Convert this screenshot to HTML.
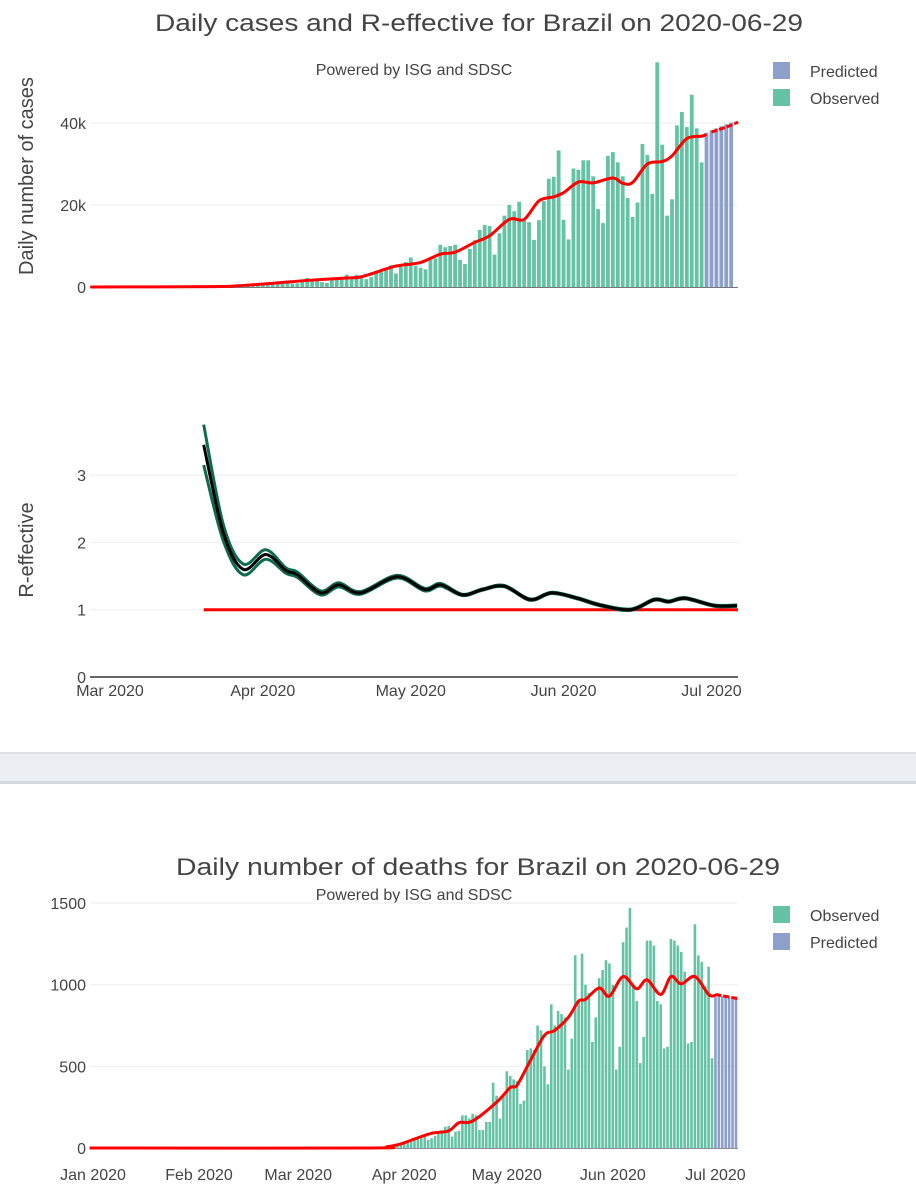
<!DOCTYPE html>
<html><head><meta charset="utf-8"><style>
html,body{margin:0;padding:0;background:#fff;}
svg{display:block;font-family:"Liberation Sans",sans-serif;}
</style></head><body>
<svg id="svg" width="916" height="1200" viewBox="0 0 916 1200">
<rect x="0" y="753" width="916" height="31" fill="#ebeef3"/>
<rect x="0" y="752" width="916" height="2" fill="#dde0e6"/>
<rect x="0" y="781" width="916" height="3" fill="#d2d6dd"/>
<g id="g1"></g>
<g id="g2"></g>
<g id="g3"></g>
</svg>
<script>
// ---- cases data (day index 0 = 2020-03-01) ----
const casesObserved = [0,0,0,0,0,0,1,2,5,5,10,10,20,25,30,40,60,80,100,150,200,250,300,350,
400,500,300,500,600,500,450,700,1100,1100,1200,1100,1200,850,900,1600,2200,
1900,1600,1200,1000,1800,1900,2100,3000,2000,3000,2500,1900,2400,3400,3700,4500,
5300,3300,5000,6100,7200,5200,4700,4300,6600,7000,10300,9700,10000,10300,6600,5600,9300,11400,13900,15100,14900,7900,13100,17400,20000,18500,20800,16500,15800,11500,16300,21000,26400,26900,33300,16400,11600,28900,28600,30900,30900,27000,19000,15600,32000,32900,30400,27000,21700,17100,20600,34900,32200,22700,54800,34700,17400,21400,39400,42700,39000,46900,38700,30400];
const casesPredicted = [37600,38200,38700,39200,39700,40100];
const casesTrendDays = [-4,21,26,33,40,48,51,57,59,63,67,70,74,77,81,84,87,90,92,95,98,102,104,106,109,112,114,117,120,121];
const casesTrendVals = [0,100,300,900,1600,2200,2500,4800,5300,6000,8000,8500,10900,12500,16500,16500,21000,22000,23000,25600,25400,26600,25300,25500,30000,30600,32000,36200,36800,37200];
const casesPredTrendDays = [122,125,127.4];
const casesPredTrendVals = [37800,39000,40200];
const casesYTicks = [0,20000,40000];
const casesYTickLabels = ["0","20k","40k"];
// ---- R-effective ----
const rDays = [19,23,27,31.6,35.7,38,42.7,46.4,50.8,58.2,63.8,67.1,71.5,75.6,80,85.2,89.6,94.8,99.3,105.6,110.4,113.3,116.7,122.6,127.2];
const rVals = [3.45,2.14,1.6,1.82,1.58,1.52,1.25,1.37,1.25,1.49,1.3,1.37,1.22,1.3,1.35,1.15,1.25,1.17,1.07,1.0,1.15,1.12,1.17,1.06,1.06];
const rBand = [0.3,0.12,0.08,0.07,0.04,0.04,0.03,0.03,0.02,0.02,0.02,0.02,0.01,0.01,0.01,0.01,0.01,0.01,0.01,0.01,0.01,0.01,0.01,0.01,0.01];
const rYTicks = [0,1,2,3];
const rXTickDays = [0,31,61,92,122];
const rXTickLabels = ["Mar 2020","Apr 2020","May 2020","Jun 2020","Jul 2020"];
// ---- deaths (day index 0 = 2020-01-01) ----
const deathsStartDay = 84;
const deathsObserved = [5,8,10,15,20,25,30,35,40,45,50,55,60,70,
50,60,75,90,110,130,135,70,100,105,200,200,180,210,200,110,110,160,160,400,
320,180,330,470,440,420,410,270,290,600,610,600,750,720,500,390,880,750,840,820,
800,480,670,1180,900,1190,1000,950,650,800,1040,1090,1150,1130,1000,480,620,1260,1350,1470,
1000,900,520,680,1270,1270,1240,900,880,610,620,1280,1270,1240,1200,1080,640,650,1370,1180,1140,990,1110,550];
const deathsPredicted = [940,935,930,925,920,915,910];
const deathsTrendDays = [-1,80,86,90,94,99,104,107,111,118,122,124,128,132,135,139,142,144,148,151,155,159,162,166,169,172,176,180,182];
const deathsTrendVals = [0,0,8,25,55,90,105,155,165,280,370,385,540,690,720,800,900,910,980,930,1050,975,1030,940,1050,1005,1050,940,935];
const deathsPredTrendDays = [182,188.5];
const deathsPredTrendVals = [940,915];
const deathsYTicks = [0,500,1000,1500];
const deathsXTickDays = [0,31,60,91,121,152,182];
const deathsXTickLabels = ["Jan 2020","Feb 2020","Mar 2020","Apr 2020","May 2020","Jun 2020","Jul 2020"];

const NS="http://www.w3.org/2000/svg";
function mk(parent,tag,attrs,text){const e=document.createElementNS(NS,tag);for(const k in attrs)e.setAttribute(k,attrs[k]);if(text!==undefined)e.textContent=text;parent.appendChild(e);return e;}
function smooth(pts){
  let d="M"+pts[0][0]+","+pts[0][1];
  for(let i=0;i<pts.length-1;i++){const p0=pts[i-1]||pts[i],p1=pts[i],p2=pts[i+1],p3=pts[i+2]||p2;
    const c1x=p1[0]+(p2[0]-p0[0])/6,c1y=p1[1]+(p2[1]-p0[1])/6,c2x=p2[0]-(p3[0]-p1[0])/6,c2y=p2[1]-(p3[1]-p1[1])/6;
    d+=" C"+c1x+","+c1y+" "+c2x+","+c2y+" "+p2[0]+","+p2[1];}
  return d;}
const OBS="#66c2a5",PRED="#8da0cb",TXT="#444";
const L=90,R=738;

// ===== Chart 1 : cases =====
const g1=document.getElementById('g1');
const cx=d=>110+d*4.93, cy=v=>287-v*0.0041;
let t=mk(g1,'text',{x:479,y:31,'text-anchor':'middle','font-size':24,fill:TXT,textLength:648,lengthAdjust:'spacingAndGlyphs'},"Daily cases and R-effective for Brazil on 2020-06-29");

t=mk(g1,'text',{x:414,y:75,'text-anchor':'middle','font-size':16,fill:TXT},"Powered by ISG and SDSC");

casesYTicks.forEach((v,i)=>{
  if(v>0){const gl=mk(g1,'line',{x1:L,x2:R,y1:cy(v),y2:cy(v),stroke:'#eee','stroke-width':1});
  }
  const tl=mk(g1,'text',{x:86,y:cy(v)+6,'text-anchor':'end','font-size':16,fill:TXT},casesYTickLabels[i]);
  
});
t=mk(g1,'text',{x:0,y:0,transform:'translate(33,176) rotate(-90)','text-anchor':'middle','font-size':20,fill:TXT},"Daily number of cases");

casesObserved.forEach((v,i)=>{const b=mk(g1,'rect',{x:cx(i)-1.9,y:cy(v),width:3.8,height:287-cy(v),fill:OBS});
  });
casesPredicted.forEach((v,i)=>{const d=casesObserved.length+i;const w=Math.min(3.8,R-(cx(d)-1.9));
  const b=mk(g1,'rect',{x:cx(d)-1.9,y:cy(v),width:w,height:287-cy(v),fill:PRED});
  });
let ax=mk(g1,'line',{x1:L,x2:R,y1:287.5,y2:287.5,stroke:'#777','stroke-width':1});

let p=mk(g1,'path',{d:smooth(casesTrendDays.map((d,i)=>[cx(d),cy(casesTrendVals[i])])),fill:'none',stroke:'#ff0000','stroke-width':3});

p=mk(g1,'path',{d:smooth(casesPredTrendDays.map((d,i)=>[cx(d),cy(casesPredTrendVals[i])])),fill:'none',stroke:'#ff0000','stroke-width':3,'stroke-dasharray':'6,2'});

[["Predicted",PRED,71],["Observed",OBS,98]].forEach(([n,c,y])=>{
  const s=mk(g1,'rect',{x:773,y:y-9,width:17,height:17,fill:c});
  
  const lt=mk(g1,'text',{x:810,y:y+6,'font-size':16,fill:TXT},n);
  
});

// ===== Chart 2 : R-effective =====
const g2=document.getElementById('g2');
const ry=v=>677-v*67.3;
rYTicks.forEach(v=>{
  if(v>0){const gl=mk(g2,'line',{x1:L,x2:R,y1:ry(v),y2:ry(v),stroke:'#eee','stroke-width':1});
  }
  const tl=mk(g2,'text',{x:86,y:ry(v)+6,'text-anchor':'end','font-size':16,fill:TXT},String(v));
  
});
t=mk(g2,'text',{x:0,y:0,transform:'translate(33,550) rotate(-90)','text-anchor':'middle','font-size':20,fill:TXT},"R-effective");

ax=mk(g2,'line',{x1:L,x2:R,y1:677,y2:677,stroke:'#666','stroke-width':2});

rXTickDays.forEach((d,i)=>{const tl=mk(g2,'text',{x:cx(d),y:696,'text-anchor':'middle','font-size':16,fill:TXT},rXTickLabels[i]);
  });
let rl=mk(g2,'line',{x1:cx(rDays[0]),x2:R,y1:ry(1),y2:ry(1),stroke:'#ff0000','stroke-width':3});

p=mk(g2,'path',{d:smooth(rDays.map((d,i)=>[cx(d),ry(rVals[i]+rBand[i])])),fill:'none',stroke:'#0d6b50','stroke-width':3});

p=mk(g2,'path',{d:smooth(rDays.map((d,i)=>[cx(d),ry(rVals[i]-rBand[i])])),fill:'none',stroke:'#0d6b50','stroke-width':3});

p=mk(g2,'path',{d:smooth(rDays.map((d,i)=>[cx(d),ry(rVals[i])])),fill:'none',stroke:'#000','stroke-width':3});


// ===== Chart 3 : deaths =====
const g3=document.getElementById('g3');
const dx=d=>93+d*3.42, dy=v=>1148-v*0.1633;
t=mk(g3,'text',{x:478,y:875,'text-anchor':'middle','font-size':24,fill:TXT,textLength:604,lengthAdjust:'spacingAndGlyphs'},"Daily number of deaths for Brazil on 2020-06-29");

t=mk(g3,'text',{x:414,y:900,'text-anchor':'middle','font-size':16,fill:TXT},"Powered by ISG and SDSC");

deathsYTicks.forEach(v=>{
  if(v>0){const gl=mk(g3,'line',{x1:L,x2:R,y1:dy(v),y2:dy(v),stroke:'#eee','stroke-width':1});
  }
  const tl=mk(g3,'text',{x:86,y:dy(v)+6,'text-anchor':'end','font-size':16,fill:TXT},String(v));
  
});
deathsXTickDays.forEach((d,i)=>{const tl=mk(g3,'text',{x:dx(d),y:1180,'text-anchor':'middle','font-size':16,fill:TXT},deathsXTickLabels[i]);
  });
deathsObserved.forEach((v,i)=>{const d=deathsStartDay+i;const b=mk(g3,'rect',{x:dx(d)-1.3,y:dy(v),width:2.6,height:1148-dy(v),fill:OBS});
  });
deathsPredicted.forEach((v,i)=>{const d=deathsStartDay+deathsObserved.length+i;const b=mk(g3,'rect',{x:dx(d)-1.3,y:dy(v),width:2.6,height:1148-dy(v),fill:PRED});
  });
ax=mk(g3,'line',{x1:L,x2:R,y1:1148.5,y2:1148.5,stroke:'#8a8a9a','stroke-width':1});

p=mk(g3,'path',{d:smooth(deathsTrendDays.map((d,i)=>[dx(d),dy(deathsTrendVals[i])])),fill:'none',stroke:'#ff0000','stroke-width':3});

p=mk(g3,'path',{d:smooth(deathsPredTrendDays.map((d,i)=>[dx(d),dy(deathsPredTrendVals[i])])),fill:'none',stroke:'#ff0000','stroke-width':3,'stroke-dasharray':'6,2'});

[["Observed",OBS,915],["Predicted",PRED,942]].forEach(([n,c,y])=>{
  const s=mk(g3,'rect',{x:773,y:y-9,width:17,height:17,fill:c});
  
  const lt=mk(g3,'text',{x:810,y:y+6,'font-size':16,fill:TXT},n);
  
});
</script>
</body></html>
